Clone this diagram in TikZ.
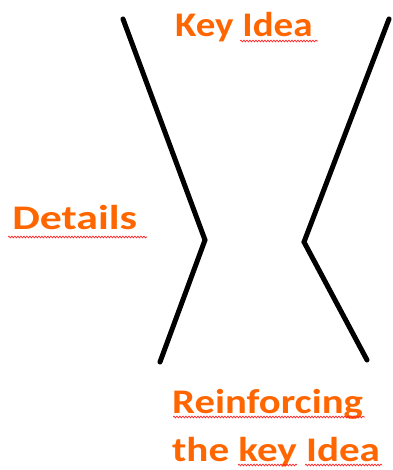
\documentclass[tikz,border=0pt]{standalone}
\usepackage{fontspec}
\setmainfont{Carlito}
\usetikzlibrary{decorations.pathmorphing}
\definecolor{lblorange}{RGB}{255,102,0}
\tikzset{
  lbl/.style={text=lblorange, font=\fontsize{34.5}{42}\selectfont\bfseries, inner sep=0pt, anchor=base west},
  stroke/.style={line width=5pt, line cap=round, line join=miter, black},
  squig/.style={red!85!white, line width=0.7pt, decorate, decoration={snake, amplitude=0.9pt, segment length=3pt}}
}
\begin{document}
\begin{tikzpicture}[x=1pt,y=-1pt]
\useasboundingbox (0,0) rectangle (392,470);
% lines
\coordinate (l1) at (123,19);
\coordinate (l2) at (205,240);
\coordinate (l3) at (160,362);
\coordinate (r1) at (389,19);
\coordinate (r2) at (304,242);
\coordinate (r3) at (367,360);
\draw[stroke] (l1) -- (l2) -- (l3);
\draw[stroke] (r1) -- (r2) -- (r3);
% labels
\node[lbl, xscale=1.13] (key) at (175,37) {Key Idea};
\node[lbl, xscale=1.27] (det) at (12,229) {Details};
\node[lbl, xscale=1.18] (rein) at (172,413) {Reinforcing};
\node[lbl, xscale=1.19] (the) at (172,461) {the key Idea};
% spell-check squiggles
\coordinate (s1a) at (240,41); \coordinate (s1b) at (318,41);
\coordinate (s2a) at (8,237); \coordinate (s2b) at (147,237);
\coordinate (s3a) at (173,417); \coordinate (s3b) at (365,417);
\coordinate (s4a) at (238,465); \coordinate (s4b) at (297,465);
\coordinate (s5a) at (305,465); \coordinate (s5b) at (382,465);
\draw[squig] (s1a) -- (s1b);
\draw[squig] (s2a) -- (s2b);
\draw[squig] (s3a) -- (s3b);
\draw[squig] (s4a) -- (s4b);
\draw[squig] (s5a) -- (s5b);
\end{tikzpicture}
\end{document}
